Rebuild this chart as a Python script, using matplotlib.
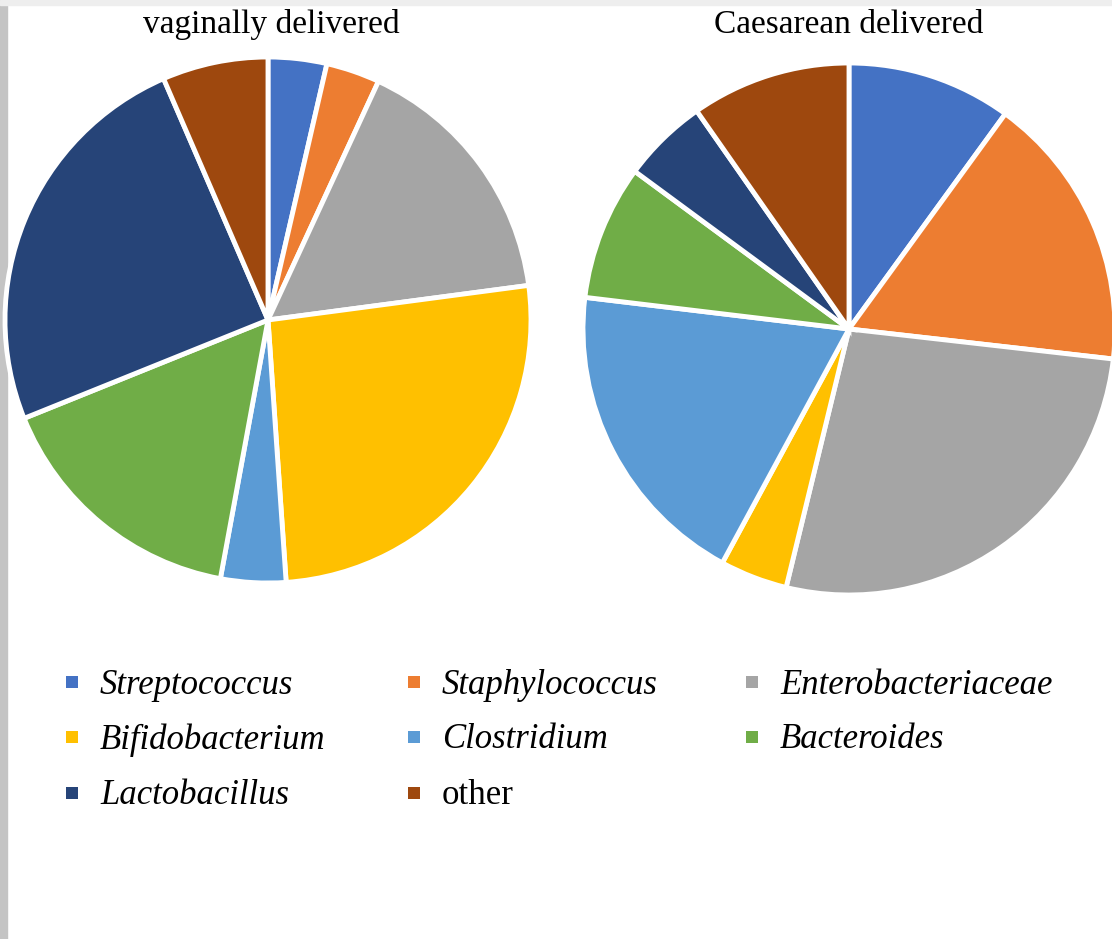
import matplotlib
matplotlib.use("Agg")
import matplotlib.pyplot as plt
from matplotlib.patches import Rectangle

categories = ["Streptococcus", "Staphylococcus", "Enterobacteriaceae", "Bifidobacterium",
              "Clostridium", "Bacteroides", "Lactobacillus", "other"]
italic_flags = [True, True, True, True, True, True, True, False]
vaginal = [3.6, 3.3, 16.0, 26.0, 4.0, 16.0, 24.6, 6.5]
caesarean = [10.0, 16.8, 27.0, 4.1, 19.0, 8.2, 5.2, 9.7]
titles = ["vaginally delivered", "Caesarean delivered"]
colors = ["#4472C4", "#ED7D31", "#A5A5A5", "#FFC000", "#5B9BD5", "#70AD47", "#264478", "#9E480E"]

W, H = 1112, 939
fig = plt.figure(figsize=(W / 100, H / 100), dpi=100)
fig.patch.set_facecolor("white")
ax = fig.add_axes([0, 0, 1, 1])
ax.set_xlim(0, W)
ax.set_ylim(0, H)
ax.set_aspect("equal")
ax.axis("off")

# screenshot frame strips
ax.add_patch(Rectangle((0, 0), 7, H, color="#c4c4c4", zorder=0))
ax.add_patch(Rectangle((0, H - 5), W, 5, color="#eeeeee", zorder=0))

wp = dict(edgecolor="white", linewidth=3.5)
ax.pie(vaginal, colors=colors, startangle=90, counterclock=False,
       center=(268, H - 320), radius=263, wedgeprops=wp, frame=True)
ax.pie(caesarean, colors=colors, startangle=90, counterclock=False,
       center=(849, H - 329), radius=266, wedgeprops=wp, frame=True)
ax.set_xlim(0, W)
ax.set_ylim(0, H)
ax.axis("off")

serif = "Liberation Serif"
ax.text(271, H - 25, titles[0], ha="center", va="center", fontsize=24, family=serif)
ax.text(849, H - 25, titles[1], ha="center", va="center", fontsize=24, family=serif)

col_x = [72, 414, 752]
row_y = [682, 737, 793]
for i, (name, it) in enumerate(zip(categories, italic_flags)):
    r, c = divmod(i, 3)
    x, y = col_x[c], row_y[r]
    ax.add_patch(Rectangle((x - 6, H - y - 6), 12, 12, facecolor=colors[i], edgecolor="none"))
    ax.text(x + 28, H - y - 3, name, ha="left", va="center", fontsize=25, family=serif,
            style="italic" if it else "normal")

fig.savefig("out.png", dpi=100, facecolor="white")
